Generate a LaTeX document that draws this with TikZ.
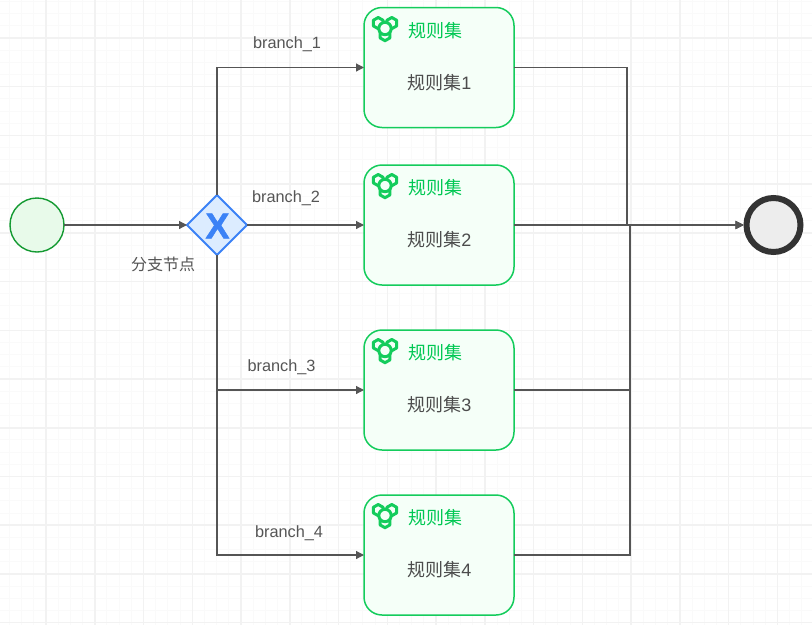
\documentclass[tikz,border=0pt]{standalone}
\usepackage{fontspec}
\setmainfont{Liberation Sans}
\newfontfamily\cjk{Noto Sans CJK SC}
\newfontfamily\xfont[FakeBold=1.5]{Liberation Sans Bold}
\usetikzlibrary{arrows.meta,shapes.geometric}
\definecolor{edgec}{HTML}{555555}
\definecolor{rulec}{HTML}{14CC5C}
\definecolor{rulet}{HTML}{00C853}
\definecolor{rulef}{HTML}{F5FFF8}
\definecolor{gwc}{HTML}{3B82F6}
\definecolor{gwf}{HTML}{DCECFF}
\definecolor{startc}{HTML}{149A32}
\definecolor{startf}{HTML}{E8FAEA}
\definecolor{gridmin}{HTML}{FAFAFA}
\definecolor{gridmaj}{HTML}{F2F2F2}
\tikzset{
  rulebox/.style={draw=rulec,fill=rulef,line width=1.5pt,rounded corners=18pt,minimum width=150pt,minimum height=120pt,inner sep=0pt,outer sep=0pt},
  ruletitle/.style={text=rulet,font=\cjk\fontsize{18}{18}\selectfont,inner sep=0pt},
  rulelabel/.style={text=edgec!90!black,font=\fontsize{18}{18}\selectfont,inner sep=0pt},
  edgelabel/.style={text=edgec,font=\fontsize{16.3}{16.3}\selectfont,inner sep=0pt},
  conn/.style={draw=edgec,line width=1.2pt,-{Triangle[length=8pt,width=8pt]}},
  gridminor/.style={draw=gridmin,line width=1pt},
  gridmajor/.style={draw=gridmaj,line width=1.5pt},
}
\newcommand{\ruleicon}[2]{% centre x, y
  \begin{scope}[shift={(#1,#2)},line width=3pt,draw=rulec,line join=round]
    \foreach \cx/\cy in {-6.8/-5.4,6.8/-5.4,0/6.6}{
      \draw (\cx,\cy) +(0,-5.6) -- +(4.9,-2.8) -- +(4.9,2.8) -- +(0,5.6) -- +(-4.9,2.8) -- +(-4.9,-2.8) -- cycle;
    }
    \draw[fill=rulef] (0,0) circle (6.2pt);
  \end{scope}}
\begin{document}
\begin{tikzpicture}[x=1pt,y=-1pt]
\useasboundingbox (0,0) rectangle (812,625);
\fill[white] (0,0) rectangle (812,625);
% grid
\foreach \k in {-3,...,64}{
  \pgfmathsetmacro\gx{46+12.19*\k}
  \draw[gridminor] (\gx,0) -- (\gx,625);
}
\foreach \k in {-3,...,49}{
  \pgfmathsetmacro\gy{38+12.18*\k}
  \draw[gridminor] (0,\gy) -- (812,\gy);
}
\foreach \k in {0,...,15}{
  \pgfmathsetmacro\gx{46+48.76*\k}
  \draw[gridmajor] (\gx,0) -- (\gx,625);
}
\foreach \k in {0,...,12}{
  \pgfmathsetmacro\gy{38+48.72*\k}
  \draw[gridmajor] (0,\gy) -- (812,\gy);
}
% nodes
\node[circle,draw=startc,fill=startf,line width=1.4pt,minimum size=54pt,inner sep=0pt,outer sep=0pt] (start) at (37,225) {};
\node[diamond,aspect=1,draw=gwc,fill=gwf,line width=2pt,minimum size=60pt,inner sep=0pt,outer sep=0pt] (gw) at (217,225) {};
\node[text=gwc,font=\xfont\fontsize{36}{36}\selectfont,inner sep=0pt] (gwx) at (217.5,226) {X};
\node[edgelabel,font=\cjk\fontsize{16}{16}\selectfont] (gwl) at (163,264) {分支节点};
\node[circle,draw=black!80,fill=black!7,line width=6pt,minimum size=54pt,inner sep=0pt,outer sep=3pt] (end) at (773.5,225) {};
\node[rulebox] (b1) at (439,67.5) {};
\node[rulebox] (b2) at (439,225) {};
\node[rulebox] (b3) at (439,390) {};
\node[rulebox] (b4) at (439,555) {};
\foreach \b/\yy in {1/8,2/165,3/330,4/495}{
  \ruleicon{385}{\yy+20.5}
  \node[ruletitle] (t\b) at (435,\yy+22.5) {规则集};
  \node[rulelabel] (l\b) at (439.5,\yy+75) {{\cjk 规则集}\b};
}
\node[edgelabel] (e1) at (287,44) {branch\_1};
\node[edgelabel] (e2) at (286,198) {branch\_2};
\node[edgelabel] (e3) at (281.5,367) {branch\_3};
\node[edgelabel] (e4) at (289,533) {branch\_4};
\coordinate (ja) at (627,225);
\coordinate (jb) at (630,225);
% connectors
\draw[conn] (start.east) -- (gw.west);
\draw[conn] (gw.north) |- (b1.west);
\draw[conn] (gw.east) -- (b2.west);
\draw[conn] (gw.south) |- (b3.west);
\draw[conn] (gw.south) |- (b4.west);
\draw[conn] (b1.east) -| (ja) -- (end.west);
\draw[conn] (b2.east) -- (end.west);
\draw[conn] (b3.east) -| (jb) -- (end.west);
\draw[conn] (b4.east) -| (jb) -- (end.west);
\end{tikzpicture}
\end{document}
